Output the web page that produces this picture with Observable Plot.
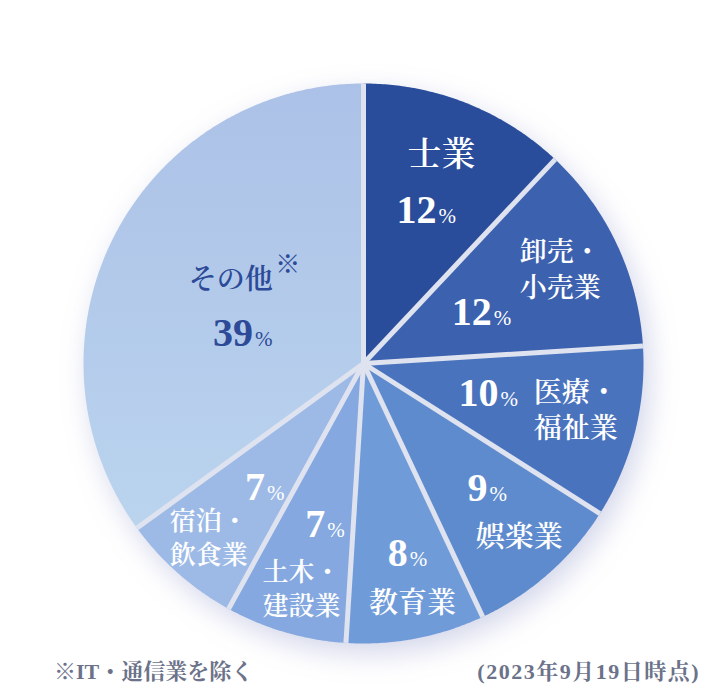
<!DOCTYPE html>
<html><head><meta charset="utf-8">
<script src="https://cdn.jsdelivr.net/npm/d3@7"></script>
<script src="https://cdn.jsdelivr.net/npm/@observablehq/plot@0.6"></script>
<style>
body{margin:0;background:#fff;}
#wrap{position:relative;width:728px;height:700px;}
#foot{position:absolute;left:0;top:650px;width:728px;height:50px;font-family:"Liberation Serif","Noto Serif CJK JP","Noto Sans CJK JP",serif;font-size:22px;font-weight:bold;color:#6b7289;line-height:26px;}
#foot .l{position:absolute;left:54px;top:9px;}
#foot .r{position:absolute;right:28px;top:9px;letter-spacing:1.5px;}
</style></head><body>
<div id="wrap"><div id="chart"></div><div id="foot"><span class="l" id="fl"></span><span class="r" id="fr"></span></div></div>
<script>
// ---- data ----
const categories = ["士業","卸売・小売業","医療・福祉業","娯楽業","教育業","土木・建設業","宿泊・飲食業","その他"];
const labelLines = ["士業","卸売・\n小売業","医療・\n福祉業","娯楽業","教育業","土木・\n建設業","宿泊・\n飲食業","その他"];
const sliceShares = [12,12,10,9,8,7,7,35];      // as drawn (slice angles)
const printedPercents = [12,12,10,9,8,7,7,39];   // as printed on the chart
const footnote = "※IT・通信業を除く";
const asOf = "(2023年9月19日時点)";

// ---- style / layout ----
const colors = ["#294c9b","#3b61af","#4a73be","#5e8bcd","#709bd9","#84a8df","#9dbae6","url(#otherGrad)"];
const R = 280; // pie radius in px
// [radius px, angle deg clockwise from top, font size, line height]
const nameLayout = [[226,20.2,34,1.3],[219,64,27,1.35],[217,102,28,1.3],[232,137.8,29,1.3],[242,168.3,29,1.3],[232,195.5,26,1.3],[232,221.8,26,1.3],[158,302.9,28,1.3]];
const pctLayout = [[167,22.1],[129,66.2],[128,103],[175,135],[194,166.9],[164,193.6],[157,219],[125,284.8]];
const numSize = 40, pctSize = 21;
const serif = '"Liberation Serif","Noto Serif CJK JP","Noto Sans CJK JP",serif';
const jp = '"Noto Serif CJK JP","Noto Sans CJK JP",sans-serif';

document.getElementById("fl").textContent = footnote;
document.getElementById("fr").textContent = asOf;

const rad = d => d * Math.PI / 180;
const total = d3.sum(sliceShares);
let acc = 0;
const slices = categories.map((c, i) => {
  const a0 = acc / total * 360; acc += sliceShares[i]; const a1 = acc / total * 360;
  return {c, i, a0, a1};
});
const polyRows = [];
for (const s of slices) {
  polyRows.push({c: s.c, x: 0, y: 0});
  const n = Math.max(2, Math.ceil((s.a1 - s.a0) / 0.5));
  for (let k = 0; k <= n; k++) {
    const a = rad(s.a0 + (s.a1 - s.a0) * k / n);
    polyRows.push({c: s.c, x: Math.sin(a), y: Math.cos(a)});
  }
  polyRows.push({c: s.c, x: 0, y: 0});
}
const seps = slices.map(s => ({x1: 0, y1: 0, x2: Math.sin(rad(s.a0)), y2: Math.cos(rad(s.a0))}));

const labels = slices.map((s, i) => {
  const [nr, na, fs, lh] = nameLayout[i];
  const [pr, pa] = pctLayout[i];
  const num = String(printedPercents[i]);
  const w = num.length * 0.5 * numSize, pw = 0.833 * pctSize + 2;
  const shift = ((w - pw) / 2) / R;
  return {
    name: labelLines[i], fs, lh,
    nx: nr / R * Math.sin(rad(na)), ny: nr / R * Math.cos(rad(na)),
    px: pr / R * Math.sin(rad(pa)) + shift, py: pr / R * Math.cos(rad(pa)),
    num, dark: i === 7
  };
});
const light = labels.filter(d => !d.dark), dark = labels.filter(d => d.dark);
const darkColor = "#2c4a97";

const numMarks = (data, fill) => [
  Plot.text(data, {x: "px", y: "py", text: "num", fill, fontSize: numSize, fontFamily: serif, fontWeight: "bold", textAnchor: "end", lineAnchor: "bottom", dy: 14}),
  Plot.text(data, {x: "px", y: "py", text: () => "%", fill, fontSize: pctSize, fontFamily: serif, textAnchor: "start", lineAnchor: "bottom", dy: 14, dx: 2})
];
const nameMarks = (data, fill) => data.map(d =>
  Plot.text([d], {x: "nx", y: "ny", text: "name", fill, fontSize: d.fs, fontFamily: jp, fontWeight: 600, lineHeight: d.lh})
);

const chart = Plot.plot({
  width: 728, height: 650,
  marginLeft: 83, marginRight: 85, marginTop: 83, marginBottom: 7,
  x: {domain: [-1, 1], axis: null},
  y: {domain: [-1, 1], axis: null},
  color: {domain: categories, range: colors},
  style: {background: "transparent", overflow: "visible"},
  marks: [
    Plot.line(polyRows, {x: "x", y: "y", z: "c", fill: "c", stroke: "none", curve: "linear"}),
    Plot.link(seps, {x1: "x1", y1: "y1", x2: "x2", y2: "y2", stroke: "#dfe3f0", strokeWidth: 5}),
    ...nameMarks(light, "white"),
    ...nameMarks(dark, darkColor),
    Plot.text(dark, {x: "nx", y: "ny", text: () => "※", fill: darkColor, fontSize: 25, fontFamily: jp, dx: 57, dy: -13}),
    ...numMarks(light, "white"),
    ...numMarks(dark, darkColor)
  ]
});

// gradient + shadow
const ns = "http://www.w3.org/2000/svg";
const defs = document.createElementNS(ns, "defs");
defs.innerHTML = `<linearGradient id="otherGrad" x1="0" y1="0" x2="0" y2="1">
  <stop offset="0" stop-color="#acc1e7"/><stop offset="1" stop-color="#bad4ee"/></linearGradient>`;
chart.insertBefore(defs, chart.firstChild);
const lineG = chart.querySelector('g[aria-label="line"]');
if (lineG) lineG.style.filter = "drop-shadow(6px 10px 14px rgba(80,92,170,0.25))";
document.getElementById("chart").appendChild(chart);
</script>
</body></html>
